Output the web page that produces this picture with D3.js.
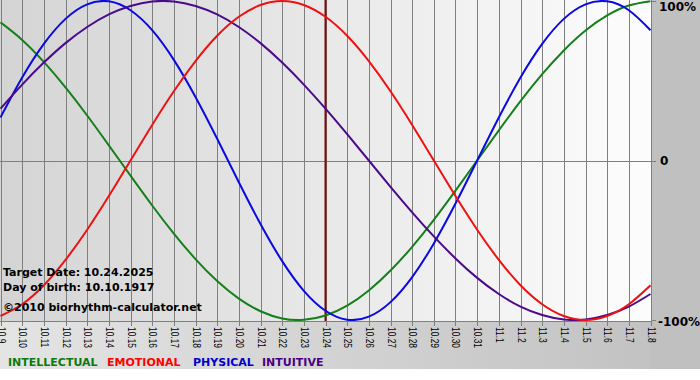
<!DOCTYPE html>
<html><head><meta charset="utf-8">
<script src="https://cdn.jsdelivr.net/npm/d3@7"></script>
<style>html,body{margin:0;padding:0;background:#fff;}svg{display:block;}</style>
</head><body><svg id="c" width="700" height="380"></svg>
<script>
const dayLabels = ["10.9","10.10","10.11","10.12","10.13","10.14","10.15","10.16","10.17","10.18","10.19","10.20","10.21","10.22","10.23","10.24","10.25","10.26","10.27","10.28","10.29","10.30","10.31","11.1","11.2","11.3","11.4","11.5","11.6","11.7","11.8"];
const physical = [0.270,0.520,0.731,0.888,0.979,0.998,0.942,0.817,0.631,0.398,0.136,-0.136,-0.398,-0.631,-0.817,-0.942,-0.998,-0.979,-0.888,-0.731,-0.520,-0.270,0,0.270,0.520,0.731,0.888,0.979,0.998,0.942,0.817];
const emotional = [-0.975,-0.901,-0.782,-0.623,-0.434,-0.223,0,0.223,0.434,0.623,0.782,0.901,0.975,1,0.975,0.901,0.782,0.623,0.434,0.223,0,-0.223,-0.434,-0.623,-0.782,-0.901,-0.975,-1,-0.975,-0.901,-0.782];
const intellectual = [0.866,0.756,0.618,0.458,0.282,0.095,-0.095,-0.282,-0.458,-0.618,-0.756,-0.866,-0.945,-0.990,-0.999,-0.972,-0.910,-0.815,-0.690,-0.541,-0.372,-0.189,0,0.189,0.372,0.541,0.690,0.815,0.910,0.972,0.999];
const intuitive = [0.325,0.476,0.614,0.736,0.837,0.916,0.969,0.997,0.997,0.969,0.916,0.837,0.736,0.614,0.476,0.325,0.165,0,-0.165,-0.325,-0.476,-0.614,-0.736,-0.837,-0.916,-0.969,-0.997,-0.997,-0.969,-0.916,-0.837];
const yTickLabels = ["100%","0","-100%"];
const yTickValues = [1,0,-1];
const targetIndex = 15;
const infoLines = ["Target Date: 10.24.2025","Day of birth: 10.10.1917","©2010 biorhythm-calculator.net"];
const legendNames = ["INTELLECTUAL","EMOTIONAL","PHYSICAL","INTUITIVE"];

const svg = d3.select("#c");
const W = 700, H = 380;
const plotL = 0, plotR = 651, plotT = 0, plotB = 321;
const x = d3.scaleLinear().domain([0, dayLabels.length - 1]).range([0.5, 650.5]);
const y = d3.scaleLinear().domain([-1, 1]).range([320, 1]);

const defs = svg.append("defs");
const g1 = defs.append("linearGradient").attr("id","bgGrad").attr("x1","0").attr("x2","1").attr("y1","0").attr("y2","0");
g1.append("stop").attr("offset","0").attr("stop-color","#e4e4e4");
g1.append("stop").attr("offset","1").attr("stop-color","#c0c0c0");
const g2 = defs.append("linearGradient").attr("id","plotGrad").attr("x1","0").attr("x2","1").attr("y1","0").attr("y2","0");
g2.append("stop").attr("offset","0").attr("stop-color","#d4d4d4");
g2.append("stop").attr("offset","1").attr("stop-color","#fdfdfd");
defs.append("clipPath").attr("id","clip").append("rect").attr("x",plotL).attr("y",plotT).attr("width",plotR-plotL).attr("height",plotB-plotT);

svg.append("rect").attr("width",W).attr("height",H).attr("fill","#fff");
svg.append("rect").attr("width",W).attr("height",369).attr("fill","url(#bgGrad)");
svg.append("rect").attr("x",651).attr("width",W-651).attr("height",369).attr("fill","#c0c0c0");
svg.append("rect").attr("x",plotL).attr("y",plotT).attr("width",plotR-plotL).attr("height",plotB-plotT).attr("fill","url(#plotGrad)");

const grid = svg.append("g");
dayLabels.forEach((d,i)=>{
  const xx = Math.round(x(i)) + 0.5;
  grid.append("line").attr("x1",xx).attr("x2",xx).attr("y1",0).attr("y2",326).attr("stroke","#7f7f7f").attr("stroke-width",1);
});
svg.append("line").attr("x1",0).attr("x2",651).attr("y1",Math.round(y(0))+0.5).attr("y2",Math.round(y(0))+0.5).attr("stroke","#7f7f7f");
svg.append("line").attr("x1",0).attr("x2",651).attr("y1",321.5).attr("y2",321.5).attr("stroke","#7f7f7f");
yTickValues.forEach(v=>{
  const yy = Math.round(y(v))+0.5;
  svg.append("line").attr("x1",651).attr("x2",656).attr("y1",yy).attr("y2",yy).attr("stroke","#7f7f7f");
});

svg.append("line").attr("x1",x(targetIndex)).attr("x2",x(targetIndex)).attr("y1",0).attr("y2",321).attr("stroke","#7a0a0a").attr("stroke-width",2);

const line = d3.line().x((d,i)=>x(i)).y(d=>y(d)).curve(d3.curveNatural);
const series = [
  {v: intellectual, c:"#13801a"},
  {v: physical, c:"#0a0ae0"},
  {v: intuitive, c:"#4a0a8a"},
  {v: emotional, c:"#ee1111"}
];
const lg = svg.append("g").attr("clip-path","url(#clip)");
series.forEach(s=>{
  lg.append("path").attr("d", line(s.v)).attr("fill","none").attr("stroke",s.c).attr("stroke-width",2);
});

const info = svg.append("g").attr("font-family","'DejaVu Sans', Verdana, sans-serif").attr("font-weight","bold").attr("font-size",11).attr("fill","#000");
[276,291,311].forEach((yy,i)=>{
  info.append("text").attr("x",3).attr("y",yy).text(infoLines[i]);
});

const xl = svg.append("g").attr("font-family","'Liberation Sans', Arial, sans-serif").attr("font-size",10.5).attr("fill","#000");
dayLabels.forEach((d,i)=>{
  const xx = Math.round(x(i)) + 0.5;
  xl.append("text").attr("transform",`translate(${xx-3.8},327) rotate(90) scale(0.8,1)`).attr("x",0).attr("y",0).text(d);
});

const rl = svg.append("g").attr("font-family","'DejaVu Sans', Verdana, sans-serif").attr("font-weight","bold").attr("font-size",12).attr("fill","#000");
const rlPos = [[659,11],[660,165],[658,326]];
yTickLabels.forEach((t,i)=>{
  rl.append("text").attr("x",rlPos[i][0]).attr("y",rlPos[i][1]).text(t);
});

const legColors = ["#0c7a0c","#ff0000","#0000cc","#4b0082"];
const legX = [8,107,193,262];
const leg = svg.append("g").attr("font-family","'DejaVu Sans', Verdana, sans-serif").attr("font-weight","bold").attr("font-size",11);
legendNames.forEach((n,i)=>{
  leg.append("text").attr("x",legX[i]).attr("y",366).attr("fill",legColors[i]).text(n);
});
</script></body></html>
